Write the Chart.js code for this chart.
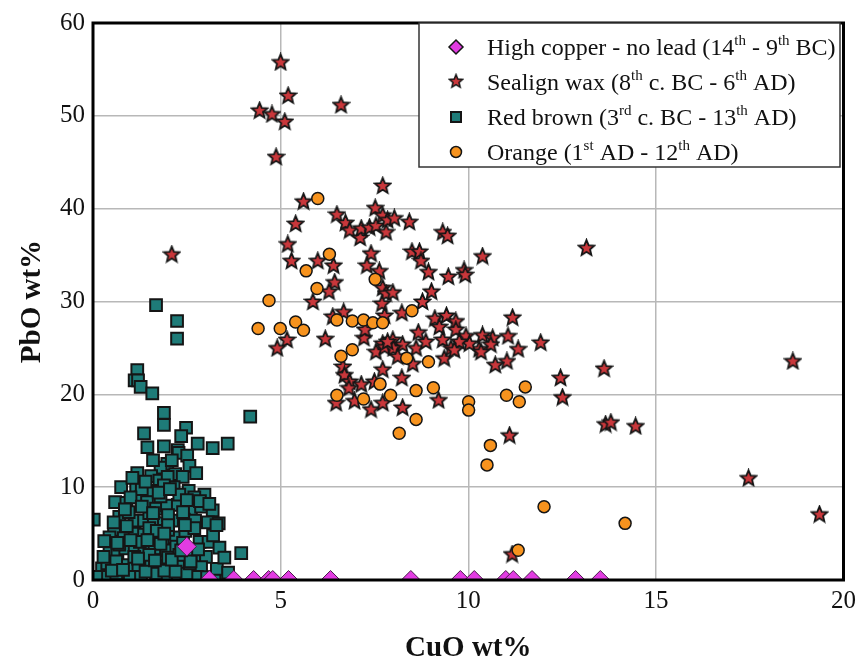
<!DOCTYPE html>
<html><head><meta charset="utf-8">
<script src="https://cdn.jsdelivr.net/npm/chart.js@4.4.0/dist/chart.umd.min.js"></script>
<style>html,body{margin:0;padding:0;background:#fff;}canvas{display:block;}</style>
</head><body>
<canvas id="c" width="862" height="671"></canvas>
<script>
// ---- data ----
const xAxisTitle = "CuO wt%";
const yAxisTitle = "PbO wt%";
const xTickValues = [0, 5, 10, 15, 20];
const yTickValues = [0, 10, 20, 30, 40, 50, 60];

const highCopperCuO = [2.5, 3.1, 3.75, 4.28, 4.68, 4.79, 5.21, 6.33, 8.47, 9.79, 10.16, 11.0, 11.2, 11.7, 12.86, 13.52];
const highCopperPbO = [3.6, 0, 0, 0, 0, 0, 0, 0, 0, 0, 0, 0, 0, 0, 0, 0];

const sealingCuO = [5.0,5.2,4.44,4.77,5.11,6.61,4.88,2.1,13.15,18.65,17.47,19.36,14.46,13.66,13.8,13.62,12.46,12.51,11.18,11.93,
 10.38,10.65,10.6,11.06,11.33,11.03,10.72,10.29,10.38,11.1,11.17,7.72,5.61,5.40,5.19,5.29,6.50,6.73,6.84,7.12,
 7.15,7.37,7.52,7.54,7.72,7.81,7.85,8.03,8.43,9.32,9.45,8.5,8.70,8.74,8.94,9.47,9.89,9.92,5.99,6.41,
 7.41,7.30,7.63,6.44,6.29,5.86,7.72,7.81,7.99,7.70,9.02,8.78,7.77,6.68,6.39,8.23,9.11,9.42,9.67,9.23,
 9.67,9.94,10.03,5.17,4.91,6.19,7.22,7.25,7.72,7.99,8.25,7.54,7.77,8.0,8.12,8.61,8.67,8.87,8.52,9.36,
 9.32,9.54,9.76,7.72,8.23,6.66,6.70,6.84,7.15,7.50,6.82,6.48,6.97,7.41,7.72,8.25,9.21,7.85,9.63,10.34];
const sealingPbO = [55.8,52.2,50.6,50.2,49.4,51.2,45.6,35.1,35.8,23.6,11.0,7.1,16.6,16.8,17.0,22.8,21.8,19.7,28.3,25.6,
 26.4,26.1,25.4,26.3,24.9,23.6,23.2,24.9,34.9,15.6,2.8,42.5,40.8,38.4,36.2,34.4,39.4,38.5,37.7,36.9,
 37.9,38.0,40.1,38.2,39.3,37.5,38.8,39.0,38.6,37.5,37.1,35.4,35.4,34.4,33.2,32.7,33.4,32.9,34.4,33.9,
 35.2,33.9,33.3,32.1,31.1,30.0,31.5,30.9,31.0,29.8,31.1,30.0,28.5,28.9,28.4,28.8,28.2,28.5,27.9,27.3,
 27.0,26.3,25.5,25.9,25.0,26.0,26.1,27.0,25.5,25.9,25.4,24.6,25.1,25.0,24.1,25.0,26.7,25.7,23.3,23.9,
 25.9,25.0,25.7,22.7,21.8,23.0,22.1,21.4,21.1,21.4,20.7,19.1,19.3,18.4,19.1,18.6,19.4,25.7,24.8,24.6];

const redBrownCuO = [1.68,2.24,2.24,1.18,1.11,1.20,1.27,1.58,1.89,1.89,1.36,2.48,2.35,2.79,3.19,3.59,4.19,1.89,2.26,
 2.28,2.51,1.98,2.57,1.80,1.18,1.55,1.77,2.19,2.39,2.75,1.99,0.75,1.15,1.58,2.15,2.55,2.97,1.89,0.59,0.89,
 1.27,1.44,1.68,1.97,2.26,2.61,2.88,3.19,0.02,1.11,1.36,1.62,1.89,2.15,2.42,2.72,3.06,3.35,0.56,0.44,
 0.82,1.11,1.36,1.64,1.91,2.17,2.46,2.84,3.08,3.37,3.95,0.44,0.65,0.86,1.11,1.37,1.64,1.95,2.22,2.60,
 2.81,3.01,0.24,0.38,0.62,0.93,1.21,1.55,1.82,2.08,2.35,2.61,2.88,0.13,0.40,0.62,0.98,1.28,1.68,1.99,
 2.26,2.53,2.77,3.04,3.28,3.55,3.2,3.29,2.49,2.58,0.7,0.95,1.5,2.0,2.4,2.7,1.3,1.0,1.8,2.3,
 0.9,1.5,2.0,2.7,1.25,1.8,2.4,0.5,0.8,1.4,1.9,2.2,3.3,1.1,1.5,2.0,0.7,2.6,3.5,3.6,
 1.6,2.1,1.45,0.3,0.28,0.55,1.7,2.3,1.05,1.4,1.75,2.05,2.5,2.85,3.1,0.85,1.3,1.6,
 2.0,2.45,1.2,1.65,2.1,2.6,0.65,1.0,1.45,1.9,2.35,2.8];
const redBrownPbO = [29.6,27.9,26.0,22.6,21.5,21.5,20.8,20.1,18.0,16.7,15.8,16.4,15.5,14.7,14.2,14.7,17.6,14.4,14.0,
 13.7,13.4,12.5,12.3,12.1,11.5,11.2,10.7,11.4,11.1,11.5,11.1,10.0,10.0,9.6,10.0,9.6,9.2,10.2,8.4,8.3,
 8.9,8.4,7.7,8.0,8.1,7.5,7.9,7.5,6.5,6.4,6.4,6.2,6.1,6.4,6.5,6.4,6.2,6.1,5.4,4.6,
 4.5,5.0,4.9,4.6,4.3,4.6,5.3,4.1,4.1,3.5,2.9,2.9,3.0,3.4,3.6,3.2,3.4,3.2,3.6,2.3,
 2.2,2.5,1.25,1.8,2.0,1.6,1.5,1.8,1.5,1.7,1.5,1.5,1.4,0.35,0.35,0.7,0.35,0.35,0.7,0.35,
 0.3,0.35,0.35,0.3,0.3,0.3,4.8,5.9,0.7,1.8,6.8,7.3,7.2,7.0,7.3,8.9,9.8,8.9,9.0,9.2,
 5.8,5.6,5.4,5.6,4.1,3.9,4.0,1.0,1.1,0.9,1.0,0.9,1.2,2.5,2.7,2.4,3.8,3.0,2.4,0.8,
 12.9,12.9,14.3,4.2,2.5,6.2,5.3,2.7,11.0,10.6,9.4,9.8,8.6,8.5,8.2,7.6,7.9,7.2,
 5.9,5.9,2.3,2.1,2.2,2.0,4.0,4.3,4.3,5.0,3.2,3.3];

const orangeCuO = [5.99,6.30,5.68,5.97,7.52,4.69,4.40,4.99,5.40,5.61,6.50,6.91,7.21,7.46,7.72,8.50,6.91,6.61,8.36,8.94,
 7.65,6.50,7.21,7.93,8.61,9.07,10.01,10.01,11.02,11.36,11.52,8.61,8.16,10.59,10.5,12.02,14.18,11.33];
const orangePbO = [41.1,35.1,33.3,31.4,32.4,30.1,27.1,27.1,27.8,26.9,28.0,27.9,28.0,27.7,27.7,29.0,24.8,24.1,23.9,23.5,
 21.1,19.9,19.5,19.9,20.4,20.7,19.2,18.3,19.9,19.2,20.8,17.3,15.8,14.5,12.4,7.9,6.1,3.2];

const legendTexts = [
  [["High copper - no lead (14",0],["th",1],[" - 9",0],["th",1],[" BC)",0]],
  [["Sealign wax (8",0],["th",1],[" c. BC - 6",0],["th",1],[" AD)",0]],
  [["Red brown (3",0],["rd",1],[" c. BC - 13",0],["th",1],[" AD)",0]],
  [["Orange (1",0],["st",1],[" AD - 12",0],["th",1],[" AD)",0]]
];

// ---- helpers ----
function pts(xs, ys){ return xs.map((x,i)=>({x:x, y:ys[i]})); }

function makeStar(size){
  const cv = document.createElement('canvas');
  cv.width = size; cv.height = size;
  const g = cv.getContext('2d');
  const cx = size/2, cy = size/2 + 0.6, R = size/2 - 1.2, r = R*0.45;
  g.beginPath();
  for (let i=0;i<10;i++){
    const a = -Math.PI/2 + i*Math.PI/5;
    const rr = (i%2===0)?R:r;
    const px = cx + rr*Math.cos(a), py = cy + rr*Math.sin(a);
    if(i===0) g.moveTo(px,py); else g.lineTo(px,py);
  }
  g.closePath();
  g.fillStyle = '#c9373b'; g.fill();
  g.lineWidth = 1.8; g.strokeStyle = '#151515'; g.lineJoin='miter'; g.stroke();
  return cv;
}
const starImg = makeStar(19);

const COL = {
  diamond:'#e23ce2', star:'#c9373b', square:'#1e7b78', circle:'#f7931e', edge:'#151515'
};

const framePlugin = {
  id:'frame',
  afterDatasetsDraw(chart){
    const {ctx, chartArea:a} = chart;
    ctx.save();
    ctx.strokeStyle = '#000'; ctx.lineWidth = 3;
    ctx.strokeRect(a.left, a.top, a.right-a.left, a.bottom-a.top);
    ctx.restore();
  }
};

const legendPlugin = {
  id:'customLegend',
  afterDraw(chart){
    const ctx = chart.ctx;
    ctx.save();
    const bx=419, by=23, bw=421, bh=144;
    ctx.fillStyle='#fff'; ctx.fillRect(bx,by,bw,bh);
    ctx.strokeStyle='#333'; ctx.lineWidth=1.5; ctx.strokeRect(bx,by,bw,bh);
    const rows=[47,82,117,152];
    const mx=456, tx=487;
    // diamond
    ctx.beginPath();
    ctx.moveTo(mx,rows[0]-7); ctx.lineTo(mx+7,rows[0]); ctx.lineTo(mx,rows[0]+7); ctx.lineTo(mx-7,rows[0]); ctx.closePath();
    ctx.fillStyle=COL.diamond; ctx.fill(); ctx.lineWidth=1.5; ctx.strokeStyle=COL.edge; ctx.stroke();
    // star
    ctx.drawImage(starImg, mx-8, rows[1]-9, 16, 16);
    // square
    ctx.fillStyle=COL.square; ctx.fillRect(mx-5,rows[2]-5,10,10);
    ctx.lineWidth=2; ctx.strokeStyle=COL.edge; ctx.strokeRect(mx-5,rows[2]-5,10,10);
    // circle
    ctx.beginPath(); ctx.arc(mx,rows[3],5.5,0,Math.PI*2);
    ctx.fillStyle=COL.circle; ctx.fill(); ctx.lineWidth=1.5; ctx.strokeStyle=COL.edge; ctx.stroke();
    // texts
    ctx.fillStyle='#111'; ctx.textBaseline='alphabetic';
    legendTexts.forEach((segs,i)=>{
      let x=tx; const base=rows[i]+8;
      segs.forEach(([t,sup])=>{
        ctx.font = sup ? '15px "Liberation Serif"' : '24px "Liberation Serif"';
        ctx.fillText(t, x, sup ? base-10 : base);
        x += ctx.measureText(t).width;
      });
    });
    ctx.restore();
  }
};

const tickFont = {family:'"Liberation Serif"', size:25};
const titleFont = {family:'"Liberation Serif"', size:29, weight:'bold'};

new Chart(document.getElementById('c'), {
  type:'scatter',
  data:{
    datasets:[
      {label:'High copper - no lead', data:pts(highCopperCuO, highCopperPbO), pointStyle:'rectRot', radius:9.5,
       backgroundColor:COL.diamond, borderColor:'#4a1a4a', borderWidth:1, clip:0},
      {label:'Orange', data:pts(orangeCuO, orangePbO), pointStyle:'circle', radius:6,
       backgroundColor:COL.circle, borderColor:COL.edge, borderWidth:1.5, clip:0},
      {label:'Sealign wax', data:pts(sealingCuO, sealingPbO), pointStyle:starImg, radius:8,
       backgroundColor:COL.star, borderColor:COL.edge, clip:0},
      {label:'Red brown', data:pts(redBrownCuO, redBrownPbO), pointStyle:'rect', radius:8.3,
       backgroundColor:COL.square, borderColor:COL.edge, borderWidth:2, clip:0}
    ]
  },
  options:{
    responsive:false, animation:false, devicePixelRatio:1,
    layout:{padding:{top:19,right:17,left:0,bottom:0}},
    plugins:{legend:{display:false}, tooltip:{enabled:false}},
    scales:{
      x:{
        type:'linear', min:0, max:20,
        afterBuildTicks(s){ s.ticks = xTickValues.map(v=>({value:v})); },
        afterFit(s){ s.height = 91; },
        grid:{color:'#b8b8b8', lineWidth:1.5, drawTicks:false},
        border:{display:false},
        ticks:{font:tickFont, color:'#111', padding:6, maxRotation:0},
        title:{display:true, text:xAxisTitle, font:titleFont, color:'#111', padding:{top:0,bottom:5}}
      },
      y:{
        type:'linear', min:0, max:60,
        afterBuildTicks(s){ s.ticks = yTickValues.map(v=>({value:v})); },
        afterFit(s){ s.width = 93; },
        grid:{color:'#b8b8b8', lineWidth:1.5, drawTicks:false},
        border:{display:false},
        ticks:{font:tickFont, color:'#111', padding:8},
        title:{display:true, text:yAxisTitle, font:titleFont, color:'#111', padding:{top:15,bottom:0}}
      }
    }
  },
  plugins:[framePlugin, legendPlugin]
});
</script>
</body></html>
